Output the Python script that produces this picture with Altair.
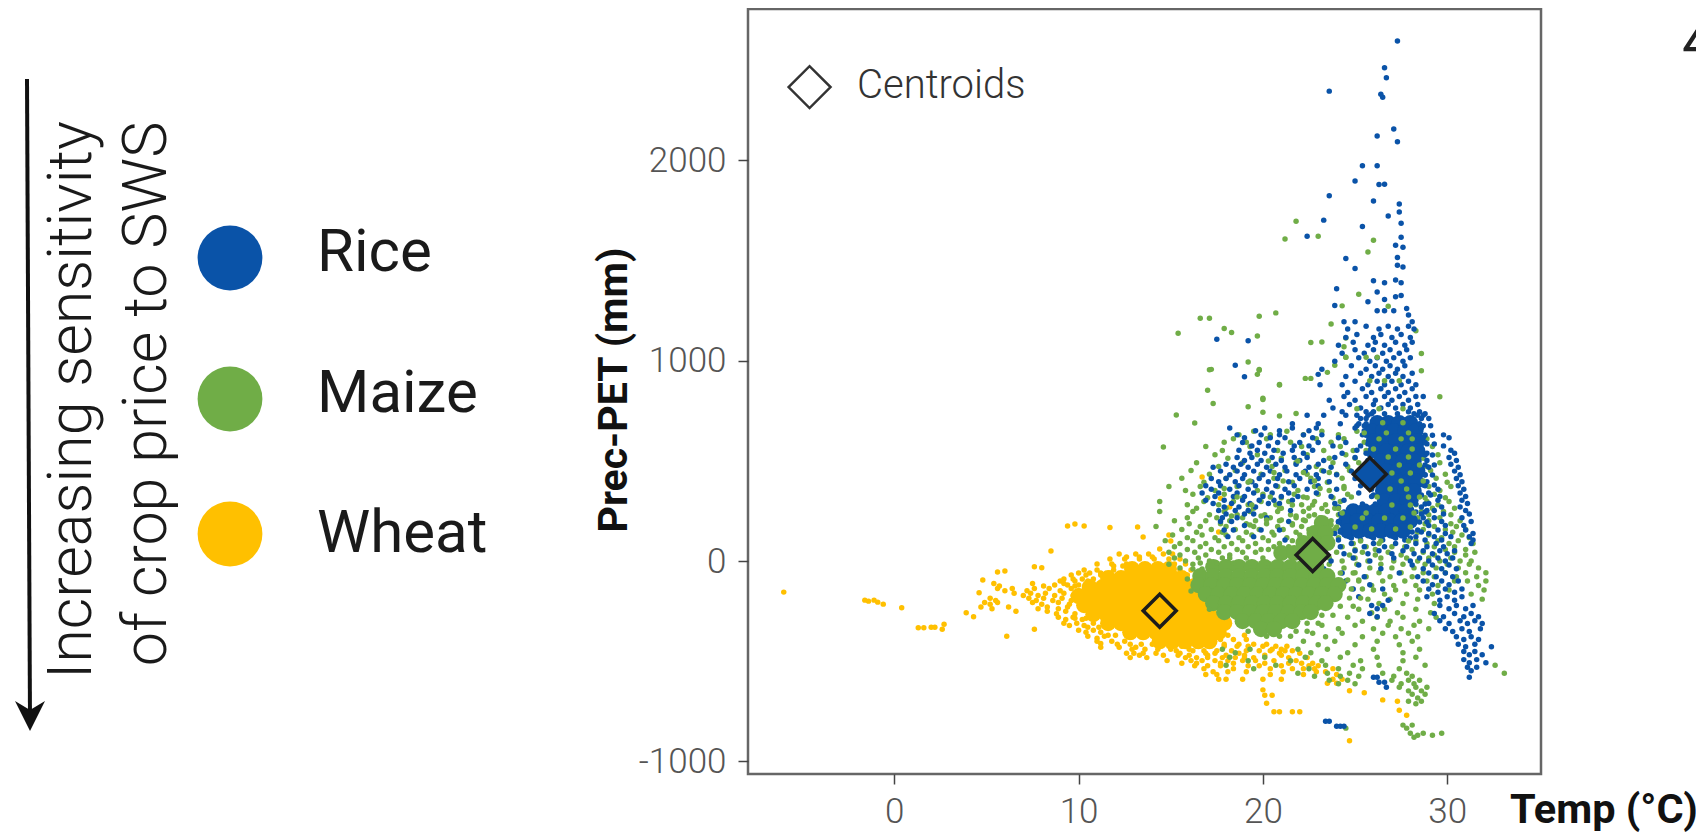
import altair as alt
import pandas as pd

RICE_COLOR, MAIZE_COLOR, WHEAT_COLOR = "#0A53A8", "#70AD47", "#FFC000"

# Rows are (Prec-PET in mm, [Temp in deg C, ...]).
wheat_core = [
 (-40,[12.9,13.6,14.3,14.9]),(-85,[11.6,12.3,13,13.7,14.4,15.1,15.6]),
 (-130,[10.6,11.3,12,12.7,13.4,14.1,14.8,15.5,16]),
 (-175,[10,10.7,11.4,12.1,12.8,13.5,14.2,14.9,15.6,16.3]),
 (-220,[10.3,11,11.7,12.4,13.1,13.8,14.5,15.2,15.9,16.6]),
 (-265,[10.8,11.5,12.2,12.9,13.6,14.3,15,15.7,16.4,17.1]),
 (-310,[11.6,12.3,13,13.7,14.4,15.1,15.8,16.5,17.2,17.9]),
 (-355,[12.8,13.5,14.2,14.9,15.6,16.3,17,17.6]),
 (-400,[14.4,15.1,15.8,16.5,17.1]),
]
wheat_pts = [
 (-155,[-6]),(-195,[-1.6,-1.1]),(-200,[-1.4]),(-205,[-.9]),(-215,[-.6]),(-233,[.4]),
 (-333,[1.3,1.6]),(-330,[2,2.2]),(-340,[2.6]),(-315,[2.7]),(-258,[3.9]),(-278,[4.3]),
 (-158,[4.6]),(-95,[4.8]),(-375,[6.1]),(-55,[5.6]),(-50,[6]),(-28,[7.6]),(-33,[8]),
 (50,[8.5]),(175,[9.4,10.3]),(185,[9.8]),(-340,[7.6]),
 (-112,[5.4,7.5,9.2]),(-124,[5.7,8.1,9.8]),(-137,[5.6,6.4,7.6,8.4,9.6]),(-148,[6,7.2,9,10]),
 (-161,[6.5,7.4,8.2,9.2]),(-172,[7,7.8,8.7,9.7]),(-186,[5.2,7.3,8.1,9.1]),(-197,[5.5,7.7,8.6,9.6]),
 (-207,[4.9,5.6,7.5,8.9]),(-216,[5.2,8,9.5]),(-229,[4.7,6.2,8.3,9.4]),(-238,[5.3,7.8,8.9]),
 (-251,[6.6,8.3,9.3]),(-263,[8.8,9.8]),(-280,[8.9,9.7]),(-292,[9.3,10.2]),(-310,[9.2,9.9,10.8]),(-322,[9.5,10.3]),
 (-345,[10,10.8]),(-355,[10.4,11.2]),(-375,[10.5,11.4]),(-385,[11]),(-400,[11,11.8,12.5]),(-412,[11.2]),(-430,[11.2,12.2,13.1]),
 (35,[12.2,13.1,13.8,14.6,15.1]),(10,[11.7,12.5,13.3,14.1,14.9,15.5]),(-15,[11,11.8,12.6,15.2,15.8]),
 (-45,[10.3,11,11.9,15.5,16.1]),(-70,[9.6,10.4,11.2,15.9,16.4]),(-100,[9,9.8,10.5,16.2]),(-120,[8.7,9.4,10]),
 (-285,[9.8,10.4,17.5]),(-330,[10.5,11.1,11.5,18]),(-370,[11.6,12,12.6,18.1,19]),(-392,[17.7,18.4,19.1]),(-415,[12.1,12.8,13.4,14,17.9,18.7,19.5,20.2]),
 (-440,[12.9,13.6,14.3,15,16,20.5,21]),(-470,[13.3,14.6,15.4,16,17,18,19,20.1,21]),
 (-60,[10,10.6,11.2,11.7]),(-90,[9.2,9.7,10.2,10.8]),(-25,[11.9,12.4,13]),
 (20,[12.6,13.3,14]),(60,[14.4]),(100,[15]),(130,[14.9]),
 (-425,[14.9,15.6,16.4,17.1,17.9,18.6,19.2,20,20.7,21.3]),(-448,[15.3,16.2,16.8,17.5,18.3,19.1,19.8,20.4,21.2,21.6]),
 (-460,[12.6,13,13.5,14.2,15.5,16.9,17.4,18.7,20.9,22]),(-482,[12.8,13.7,15.8,16.4,17,17.8,18.5,19,19.5,21.4,22.4]),
 (-497,[14.8,16.1,16.7,17.4,18.1,18.9,19.6,20.6,21.8]),(-510,[15.6,16.4,17.7,18.4,20.1,21.4,22.1,22.7]),
 (-523,[16.3,17,17.7,19.2,19.8,21,22.5,23]),(-537,[16.8,18.4,20.4,21.6,22.2,22.8,23.8]),
 (-552,[17.3,18.1,19.1,21.1,22.9,23.4]),(-566,[16.9,17.5,20.4,22.2,24]),
 (-590,[17.6,18,18.9,20,21,23.8,24.3]),(-610,[23.5,24]),(-643,[20]),(-710,[20.2]),
 (-752,[20.9,20.6,22,21.6]),(-897,[24.7]),(-647,[24.7]),(-657,[25.5]),(-693,[26.5]),
 (-700,[27.3]),(-745,[27.4]),(-770,[27.8]),(-670,[20.1,20.5]),
 (313,[17.7]),(420,[16.7]),(270,[18.2]),(145,[17.6]),(167,[11.7]),(170,[13.2]),(120,[13.5]),
]
maize_core = [
 (190,[23.2]),(140,[22.8,23.4]),(90,[22.2,22.9,23.5]),(40,[21,21.7,22.4,23.1]),
 (-30,[17.3,18,18.7,19.4,20.1,20.8,21.5,22.2,22.9]),
 (-75,[16.6,17.3,18,18.7,19.4,20.1,20.8,21.5,22.2,22.9,23.5]),
 (-120,[16.5,17.2,17.9,18.6,19.3,20,20.7,21.4,22.1,22.8,23.5,24.1]),
 (-165,[16.9,17.6,18.3,19,19.7,20.4,21.1,21.8,22.5,23.2,23.9]),
 (-210,[17.3,18,18.7,19.4,20.1,20.8,21.5,22.2,22.9,23.4]),
 (-255,[17.9,18.6,19.3,20,20.7,21.4,22.1,22.6]),
 (-300,[18.9,19.6,20.3,21,21.6]),(-340,[19.9,20.6]),
]
maize_pts = [
 (1696,[21.8]),(1608,[21.2]),(1622,[23]),(1602,[26]),(1543,[25.7]),(1332,[25.2]),(1274,[24.3]),
 (1272,[26.8]),(1212,[16.6,17.1]),(1137,[15.4]),(1161,[17.9]),(1141,[18.3]),(1222,[19.8]),
 (1239,[20.7]),(1123,[19.7]),(1091,[22.6]),(1094,[23.2]),(994,[19.2]),(957,[17.2,19.8]),
 (932,[19.7]),(879,[20.9]),(853,[17]),(813,[20]),(1150,[28.3]),(1036,[28.6]),(950,[28.6]),
 (820,[29.6]),(1184,[23.7]),(1114,[24.5]),(1070,[24.4]),(1017,[24.5]),(978,[23.9]),(942,[23.5]),
 (912,[22.3,22.6]),(955,[17.1]),(953,[19.8]),(787,[17.3]),(770,[19.2]),(807,[20]),(882,[20.9]),
 (743,[20]),(724,[20.9]),(737,[21.8]),(729,[15.3]),(689,[16.3]),(569,[14.6]),
 (648,[19.5,21.3,23.2,25.1]),(631,[18.7,20.4,22.2,24.1,28.4]),(611,[18.4,20.2,22.9,24.4,28.9]),(593,[17.9,19.1,21.5,23.7,25.5]),
 (572,[16.9,19.3,22.1,24.2,29.2]),(552,[17.8,20.8,23.3,24.9,25.6]),(531,[17.4,19.7,22.4,24.5,29.5]),(513,[18.1,21,23.6,25,28.7]),
 (491,[16.4,18.9,21.8,23.8,25.2,29.6]),(472,[17.6,20.5,22.9,24.6,28.9]),(452,[16.1,18.5,21.2,23.2,24.7,29.1]),(433,[17.1,19.9,22.4,24,28.3,29.9]),
 (413,[15.6,18,20.6,22.6,24.3,29.4]),(394,[16.8,19.2,21.6,23.5,28.7,30]),(372,[14.9,16.6,18.6,20.8,22.8,24.4,29,30.2]),(352,[15.8,17.4,19.7,21.9,23.6,28.4,29.6]),
 (334,[16.2,17.9,20,21.7,23,24.6,29.3]),(316,[17,18.9,21,22.4,23.8,28.8,29.9]),(297,[14.4,16.8,18.4,19.9,21.4,22.8,24.2,28.9,30.1]),
 (281,[15.9,17.6,19.2,20.7,22.1,23.4,28.3,29.5]),(264,[16.4,18,19.5,21,22.5,23.9,29.2,30.4]),(247,[14.4,16.2,17.9,19.3,20.8,22.2,23.5,28.6,29.8]),
 (231,[17.1,18.6,20.1,21.5,22.8,24.1,29,30.2]),(216,[15.9,17.5,18.9,20.4,21.8,23.1,28.4,29.6]),(201,[15.2,16.9,18.2,19.6,20.9,22.3,23.7,29,30.7]),
 (186,[16,17.7,19.1,20.2,21.6,23,28.8,30.2]),(172,[14.2,16.6,18,19.5,20.8,22.1,23.4,29.3,30.5]),(158,[15.6,17.2,18.5,19.8,21.1,22.5,23.9,28.7,29.9,31]),
 (144,[16.4,17.8,19.1,20.5,21.8,23.2,28.4,30.3]),(130,[15.1,16.7,18,19.4,20.6,22,22.7,29,30.8]),(117,[15.9,17.4,18.7,20,21.3,23.4,24.1,29.7,31.2]),
 (102,[14.7,16.2,17.6,18.9,20.3,21.6,22.3,28.3,29.5,30.6]),(88,[15.5,16.9,18.3,19.6,20.9,22.1,23.6,24.9,26.3,28.9,30.1,31.4]),
 (72,[15.2,16.6,17.9,19.2,20.6,21.4,24.3,25.6,27,27.7,29.3,30.4]),(58,[15.9,17.2,18.6,19.9,20.3,25,26.1,28.1,29.9,31]),
 (44,[14.9,16.3,17.6,18.9,19.6,23.3,24,25.4,26.8,28.7,30.4,31.5]),(30,[15.5,16.9,18.2,24.7,26.1,27.5,29.3,31]),
 (15,[15.2,16.5,17.8,23.6,25,26.4,27.8,29,30.2]),(0,[15.8,17.1,22.9,24.3,25.7,27.1,28.4,29.6,30.7,31.3]),
 (-16,[14.9,16.2,23.6,25.1,26.4,27.6,28.8,30,31.2]),(-34,[15.5,24.4,25.8,27,28.2,29.4,30.6,31.7]),(-58,[25,26.3,27.5,28.7,29.9,31,32.1]),
 (-78,[25.6,26.9,28.1,29.3,30.5,31.6]),(-100,[25.2,26.5,27.7,28.9,30.4,31.1,32.1]),(-122,[25.9,27.1,28.3,29.5,31.7]),
 (-145,[26,27.2,28.5,30.1,32]),(-165,[26.6,27.8,29.2,31.3]),(-190,[25.7,26.9,28.4,31.9]),(-212,[26.3,27.6,29.3]),
 (-240,[25.2,26.6,28.3]),(-258,[25.9,27.3,29.1]),(-280,[24.6,26.2,27.6,29.4]),(-300,[25.4,26.9,28.5]),
 (-320,[23.2,25,26.8,28.2]),(-338,[24.1,26,27.5,29]),(-360,[22.7,24.3,26.5,27.9]),(-378,[23.4,25.4,27.2,28.4]),
 (-400,[22.2,23.9,26.2,28.1]),(-418,[23,25,27.4]),(-440,[17.8,19.3,21.9,23.5,26,28.5]),(-458,[18.5,22.6,24.6,27.6]),
 (-480,[18.2,20.1,22.3,24.2,26.2,28.3]),(-498,[19.2,21.5,23.2,25.3,27.6]),
 (-520,[18,20.7,23.4,24.9,26.3,28.8,32.6]),(-538,[19.5,22.5,24.1,25.4,27.4]),
 (-560,[21.9,23.5,24.7,26.5,27.8,33.1]),(-575,[22.8,24.2,25.2,27.1,28.1]),
 (-595,[23.6,24.6,27,27.9,28.5]),(-612,[24.1,25,27.5,28.2]),(-630,[27.4,28.3,28.9]),(-648,[27.9,28.6]),
 (-665,[28.1,28.8]),(-683,[28.4]),(-700,[27.9,28.6]),(-712,[28.3]),(-819,[27.6,28.1]),(-834,[24.5,27.8]),
 (-860,[28,28.7,29.7]),(-870,[28.4,29.2]),(-880,[28.2]),
]
maize_top = [
 (1017,[24.5,25.6,26.2]),(900,[25.8,26.6,27.4]),(760,[25.1,26.3,27.6]),(640,[25.5,26.7,27.9]),
 (560,[26,27.2,28.1]),(480,[25.6,27.4,28.5]),(400,[26.2,27.5,28.7,19.3,21.1,22.8]),
 (320,[24.8,26.2,27.9,28.5,18.6,20.4,22.2]),(240,[24.3,25.6,28.2]),(170,[24,25,28]),
 (100,[25.3,26.4,27.9]),(500,[20.3,21.9]),(442,[22.2,23.6,20.6]),(362,[23.1,24.4,17.9]),(280,[21.6,22.7,19.4]),
 (262,[23.2,24.1,20.9]),(225,[21.8,22.5,19.9,18.3]),(205,[21,22.2,20.2]),(180,[21.6,19.3,23.7]),
 (690,[26.5,27.6]),(610,[26.3,27.5,28.1]),(520,[26.8,27.9]),(440,[27,28]),(360,[26.9,27.8]),(280,[27,28]),
 (215,[25.4,26.6,27.6]),(160,[25.9,27.2]),
 (-60,[24.2,24.9]),(-95,[24.6,25.2]),(-140,[24.8,25.4]),(-185,[24.7,25.3]),(-225,[24.2,24.9]),
 (-270,[23.2,23.8]),(-310,[22.4,23]),(-350,[21.8,22.4,19.2]),(-375,[20.2,20.9,21.5]),
 (-40,[16.2,16.7]),(-10,[16.6,17.5,18.4,19.3,20.2]),(-90,[15.9]),(-150,[16.1]),(-240,[17.1]),(15,[18.2,19.1,20,20.9]),
]
rice_core = [
 (690,[26.2,26.8,27.4,28]),(650,[25.9,26.5,27.1,27.7,28.3]),(600,[26,26.6,27.2,27.8,28.4]),
 (550,[26.1,26.7,27.3,27.9,28.4]),(500,[26.4,27,27.6,28.2]),(450,[26.7,27.3,27.9,28.4]),
 (400,[26.7,27.3,27.9,28.3]),(350,[26.5,27.1,27.7,28.2]),(300,[26.6,27.2,27.8]),
 (250,[24.9,25.5,26.1,26.7,27.3,27.8]),(200,[24.5,25.1,25.7,26.3,26.9,27.5,28]),
 (150,[24.6,25.2,25.8,26.4,27,27.6]),
]
rice_pts = [
 (2596,[27.3]),(2463,[26.6]),(2413,[26.7]),(2346,[23.6]),(2330,[26.4]),(2315,[26.5]),(2157,[27.1]),
 (2122,[26.2]),(2093,[27.3]),(1974,[25.4,26.2]),(1897,[25]),(1880,[26.3]),(1881,[26.6]),(1824,[23.6]),
 (1797,[26]),(1782,[27.4]),(1743,[27.4]),(1723,[26.8]),(1686,[27.5]),(1702,[23.3]),(1622,[22.4]),
 (1670,[25.4]),(1617,[27.5]),(1577,[27.2]),(1567,[27.6]),(1511,[24.5]),(1460,[25]),(1516,[27.3]),
 (1477,[27.3]),(1468,[27.6]),(1399,[26]),(1389,[26.6,27.5]),(1403,[27.2]),(1360,[24]),(1343,[26.2]),
 (1326,[27.5]),(1320,[27.2]),(1306,[26.6]),(1295,[25.7]),(1276,[23.9]),(1250,[26.2,26.6,27.1]),
 (1261,[27.8]),(1228,[27.9]),(1195,[28.1,25,24.4]),(1107,[17.5]),(1100,[19.2]),(977,[18.5]),(920,[19]),(932,[23]),
 (1172,[25.6,26.8,27.9]),(1158,[24.6,26.3,27.3,28.2]),(1131,[25.1,26.4,27.5]),(1116,[24.5,26,27,28]),
 (1092,[24.9,26.1,27.2,28.1]),(1077,[24.1,25.7,26.6,27.7]),(1055,[25,26,26.9,27.8]),(1037,[24.3,25.5,26.5,27.4]),
 (1015,[25.2,26.2,27.1,28]),(998,[23.9,25.8,26.7,27.6]),(975,[24.8,26.1,26.9,27.7]),(958,[23.2,25.6,26.5,27.3]),
 (938,[25.3,26.3,27.2,28.1]),(921,[24.5,25.9,26.8,27.6]),(898,[25,26.2,27,27.9]),(880,[23.1,24.3,25.7,26.6,27.5,28.3]),
 (860,[25.4,26.4,27.2,28.1]),(842,[24.6,25.9,26.8,27.7]),(821,[24.4,25.6,26.6,27.4,28.3,28.7]),(803,[23.6,25,26.1,27,27.9]),
 (782,[24.7,26,26.8,27.6,28.4]),(764,[23.8,25.3,26.4,27.2,28]),(745,[24.3,25.6,26,27.9,28.5]),
 (735,[25.9,26.6,27.3,28.2,28.8]),(712,[25.3,25.6,28.6,29]),(675,[25.1,25.5,28.7,29.1]),(628,[25.6,28.8,29.2]),(585,[25.7,28.9,29.3]),
 (530,[25.8,26,28.8,29.2]),(480,[26,28.8,29.3]),(430,[26.3,28.8,29.2]),(380,[26.2,28.7,29.3]),(330,[26,28.6,29.1]),
 (285,[25.4,26.1,28.3,28.8]),(245,[24.4,28.3,28.8]),(195,[24.1,28.5,28.9]),(145,[24.2,28.1,28.6]),(115,[24.8,26,27.2,28]),
 (728,[22.4,23.3,24.5,25.1,25.7,28.4,28.7]),(685,[21.6,23,24.2,25.2,25.6,28.5]),
 (664,[18.2,20.1,21.6,22.9,25,28.6]),(650,[19.6,20.9,22.5,25.5]),(630,[18.6,19.9,20.9,22.2,23.2,25.4,29.8]),(616,[19,20.4,21.2,22.7,24.1,28.7,30.1]),
 (592,[18.9,19.8,20.8,22,23,24.5,28.8]),(575,[19.4,20.3,21.7,22.5,23.8,25.3,29.8]),(553,[18.7,19.7,20.6,21.6,22.7,25.1,30.2]),(538,[19.3,20.1,21.1,22.2,24.3,25.6,28.9,30.4]),
 (517,[18.6,19.4,20.5,21.7,22.4,23.9,25,30.1]),(502,[19,19.9,21,22,23.3,25.7,28.9,30.5]),(483,[18,18.8,19.7,20.7,21.8,23,24.5,30.2]),
 (468,[17.3,18.4,19.2,20.2,21.2,22.5,23.7,26,29,30.6]),(449,[17.7,18.6,19.5,20.4,21.3,22.3,23.3,24.8,30.4]),(431,[18.2,19,20,20.9,21.8,22.9,24,28.8,30.7]),
 (412,[17.2,18,18.9,19.8,20.8,22,23,25,30.5]),(396,[17.6,18.5,19.4,20.3,21.4,22.6,23.6,26.1,28.9,30.8]),
 (376,[16.9,17.7,18.7,19.6,20.7,21.7,23,25.3,28.8,30.6]),(358,[17.2,18.2,19.2,20.2,21.2,22.4,24,25.9,29.5,30.9]),
 (340,[16.7,17.6,18.6,19.5,20.5,21.4,22.9,25.2,29,30.7]),(322,[17.4,18.4,19,20,21,21.9,23.7,25.9,29.6,31]),
 (304,[16.9,17.9,18.9,19.8,20.6,21.6,24.4,28.3,29.5,30.8]),(287,[17.3,18.3,19.3,20.3,20.9,23.9,29,31.1]),
 (270,[17.9,18.7,19.6,24.1,28.6,29.7,30.7]),(252,[17.6,18.5,19.2,21.5,28.9,29.3,31]),
 (235,[18,19,19.5,24.2,28.6,29.8,31.2]),(216,[17.8,18.6,20.2,28.7,29.3,30.8]),
 (198,[17.7,18.3,21.4,24.1,29.7,31.3]),(178,[19,29,29.9,30.9]),(155,[17.9,18.4,19.9,20.9,24.2,28.4,29.5,31]),(138,[23.9,29,29.9,31.4]),
 (122,[18.1,19.5,24.7,25.9,27.1,28.3,29.3,30.2,31.2]),(105,[21.2,24.1,25.3,26.5,27.7,28.8,29.7,31.4]),
 (88,[24.8,26,27.2,28.3,29.4,31.3]),(72,[24.2,25.5,26.6,27.8,28.9,29.8]),(52,[25,26.3,27.6,28.7,29.6,30.4]),(36,[24.4,25.7,27,28.2,29.2,30]),
 (15,[24.9,27.1,28.5,29.5,30.3]),(0,[23.7,25.8,28,29,29.9]),(-20,[25.2,28.1,29.2,30.1]),(-38,[23.3,26.4,28.7,29.7,30.5]),
 (-60,[24.3,27.4,29,29.9]),(-78,[23,25.5,28.4,29.4,30.3]),(-100,[24.5,28.7,29.7,30.6]),(-118,[25.8,29.2,30.1]),
 (-140,[24.9,26.5,29,29.9,30.8]),(-156,[22.6,29.5,30.4]),(-178,[25.2,28.9,30,30.8]),(-196,[26.8,29.6,30.4]),
 (-222,[25.9,26.5,29.6,30.5,31.4]),(-238,[26.2,30.1,31]),(-262,[25.8,29.3,30.4,31.3]),(-278,[26.2,29.8,30.9,31.7]),
 (-298,[29.6,30.7,31.5]),(-312,[30.1,31.1,31.9]),(-338,[29.9,30.8,31.8]),(-352,[30.3,31.2]),(-378,[30.5,31.3]),(-392,[30.9,31.7]),
 (-415,[30.6,31.5]),(-428,[31,32.4]),(-452,[30.9,31.5]),(-468,[31.2,31.9]),(-492,[30.9,31.6]),(-508,[31.2,32.1]),(-530,[31.1,31.6]),(-548,[31.3]),
 (-580,[26,26.2,31.2]),(-605,[26.3,26.6]),(-630,[26.7]),(-800,[23.4,23.6]),(-825,[24,24.2,24.4]),
]
centroid_crop = ["Wheat", "Maize", "Rice"]
centroid_temp = [14.4, 22.7, 25.8]
centroid_prec = [-248, 30, 434]
centroid_fill = [WHEAT_COLOR, MAIZE_COLOR, RICE_COLOR]
legend_crops = ["Rice", "Maize", "Wheat"]
legend_colors = [RICE_COLOR, MAIZE_COLOR, WHEAT_COLOR]
x_ticks = [0, 10, 20, 30]
y_ticks = [-1000, 0, 1000, 2000]

LEFT, TOP, W, H = 740, 1, 793, 765
ORIGIN_X, ORIGIN_Y = LEFT + 8, TOP + 8
xs = alt.Scale(domain=[-7.94, 35.09], nice=False, zero=False)
ys = alt.Scale(domain=[-1063, 2756], nice=False, zero=False)
X_AXIS = alt.Axis(values=x_ticks, domain=False, grid=False, title=None, tickColor="#444", tickSize=10, tickWidth=1.5,
                  labelFont="Roboto", labelFontWeight=300, labelFontSize=35, labelColor="#555", labelPadding=10,
                  labelExpr="datum.value + ''")
Y_AXIS = alt.Axis(values=y_ticks, domain=False, grid=False, title=None, tickColor="#444", tickSize=10, tickWidth=1.5,
                  labelFont="Roboto", labelFontWeight=300, labelFontSize=35, labelColor="#555", labelPadding=12,
                  labelExpr="datum.value + ''")
XE = alt.X("temp:Q", scale=xs, axis=X_AXIS)
YE = alt.Y("prec:Q", scale=ys, axis=Y_AXIS)


def table(rows):
    return pd.DataFrame([{"temp": x, "prec": y} for y, vals in rows for x in vals])


def dots(rows, color, size):
    return alt.Chart(table(rows)).mark_circle(color=color, size=size, opacity=1).encode(x=XE, y=YE)


def label(text, px, py, size, **kw):
    return alt.Chart(pd.DataFrame({"t": [text]})).mark_text(
        fontSize=size, font="Roboto", **kw).encode(
        x=alt.value(px - ORIGIN_X), y=alt.value(py - ORIGIN_Y), text="t:N")


centroids = alt.Chart(pd.DataFrame({"crop": centroid_crop, "temp": centroid_temp, "prec": centroid_prec,
                                    "fill": centroid_fill})).mark_point(
    shape="diamond", filled=True, size=1090, stroke="#1c1c1c", strokeWidth=3.5, opacity=1).encode(
    x=XE, y=YE, fill=alt.Fill("fill:N", scale=None))
centroid_key = alt.Chart(pd.DataFrame({"temp": [-4.6], "prec": [2366]})).mark_point(
    shape="diamond", filled=True, size=1760, fill="white", stroke="#333", strokeWidth=2.5, opacity=1).encode(x=XE, y=YE)

circles = alt.Chart(pd.DataFrame({"c": legend_colors, "py": [258, 399, 534]})).transform_calculate(
    ypx=f"datum.py-{ORIGIN_Y}").mark_circle(size=4200, opacity=1).encode(
    x=alt.value(230 - ORIGIN_X), y=alt.Y("ypx:Q", scale=None), color=alt.Color("c:N", scale=None))

arrow = alt.Chart(pd.DataFrame({"a": [0]})).mark_rule(color="#111", strokeWidth=4).encode(
    x=alt.value(27 - ORIGIN_X), x2=alt.value(30 - ORIGIN_X),
    y=alt.value(79 - ORIGIN_Y), y2=alt.value(722 - ORIGIN_Y))
head = alt.Chart(pd.DataFrame({"a": [0]})).mark_point(
    shape="M-1,-1 L0,-0.4 L1,-1 L0,1 Z", filled=True, size=900, color="#111", opacity=1).encode(
    x=alt.value(30 - ORIGIN_X), y=alt.value(716 - ORIGIN_Y))

chart = alt.layer(
    dots(wheat_core, WHEAT_COLOR, 260), dots(wheat_pts, WHEAT_COLOR, 30),
    dots(maize_pts, MAIZE_COLOR, 30),
    dots(rice_core, RICE_COLOR, 240), dots(rice_pts, RICE_COLOR, 30),
    dots(maize_core, MAIZE_COLOR, 260), dots(maize_top, MAIZE_COLOR, 30),
    centroids, centroid_key,
    label("Centroids", 857, 86, 40, align="left", baseline="middle", fontWeight=300, color="#333"),
    label("Prec-PET (mm)", 615, 390, 41, align="center", baseline="middle", fontWeight="bold", angle=270, color="#111"),
    label("Temp (°C)", 1510, 823, 41.5, align="left", baseline="alphabetic", fontWeight="bold", color="#111"),
    label("4", 1682, 61, 58, align="left", baseline="alphabetic", color="#222"),
    circles,
    label(legend_crops[0], 317, 253, 60, align="left", baseline="middle", color="#1a1a1a"),
    label(legend_crops[1], 317, 394, 60, align="left", baseline="middle", color="#1a1a1a"),
    label(legend_crops[2], 317, 534, 60, align="left", baseline="middle", color="#1a1a1a"),
    label("Increasing sensitivity", 73, 400, 61, align="center", baseline="middle", angle=270, fontWeight=300, color="#1a1a1a"),
    label("of crop price to SWS", 148, 394, 61, align="center", baseline="middle", angle=270, fontWeight=300, color="#1a1a1a"),
    arrow, head,
).properties(
    width=W, height=H,
    padding={"left": LEFT, "top": TOP, "right": 155, "bottom": 58},
    autosize=alt.AutoSizeParams(type="none"),
).configure_view(stroke="#666", strokeWidth=2.5)

chart.save("out.html", embed_options={"renderer": "svg", "actions": False})
